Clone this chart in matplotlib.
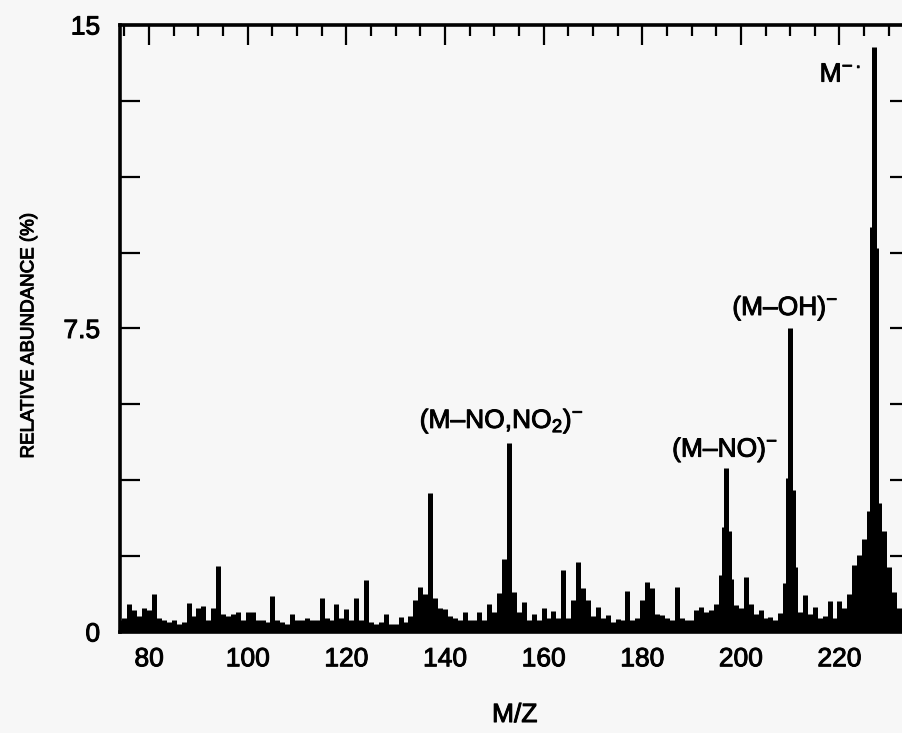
import numpy as np
import matplotlib
matplotlib.use("Agg")
import matplotlib.pyplot as plt
import matplotlib.patheffects as pe
from matplotlib.ticker import MultipleLocator, FixedLocator, FuncFormatter

plt.rcParams['font.family'] = ['Liberation Sans', 'DejaVu Sans']
plt.rcParams['mathtext.fontset'] = 'custom'
plt.rcParams['mathtext.rm'] = 'Liberation Sans'
plt.rcParams['mathtext.it'] = 'Liberation Sans:italic'
plt.rcParams['mathtext.bf'] = 'Liberation Sans:bold'

# spectrum, one value per integer m/z (74 ... 234)
mz = np.arange(74, 235)
abundance = [
    0.30, 0.35, 0.70, 0.55, 0.40, 0.60, 0.55, 0.95, 0.35, 0.30,   # 74-83
    0.25, 0.30, 0.20, 0.25, 0.72, 0.40, 0.60, 0.65, 0.30, 0.60,   # 84-93
    1.63, 0.45, 0.40, 0.45, 0.50, 0.30, 0.50, 0.50, 0.30, 0.30,   # 94-103
    0.25, 0.88, 0.30, 0.25, 0.20, 0.45, 0.30, 0.30, 0.35, 0.30,   # 104-113
    0.30, 0.84, 0.35, 0.30, 0.69, 0.35, 0.57, 0.30, 0.84, 0.30,   # 114-123
    1.28, 0.25, 0.20, 0.25, 0.45, 0.20, 0.20, 0.38, 0.25, 0.40,   # 124-133
    0.80, 1.12, 0.95, 3.43, 0.85, 0.60, 0.57, 0.40, 0.35, 0.30,   # 134-143
    0.50, 0.30, 0.30, 0.50, 0.30, 0.69, 0.50, 0.96, 1.80, 4.68,   # 144-153
    1.00, 0.50, 0.75, 0.30, 0.45, 0.30, 0.60, 0.35, 0.52, 0.35,   # 154-163
    1.52, 0.35, 0.80, 1.74, 1.08, 0.80, 0.40, 0.62, 0.35, 0.42,   # 164-173
    0.25, 0.33, 0.30, 1.02, 0.30, 0.35, 0.80, 1.24, 1.08, 0.45,   # 174-183
    0.42, 0.35, 0.30, 1.10, 0.35, 0.30, 0.30, 0.55, 0.62, 0.50,   # 184-193
    0.55, 0.70, 1.40, 4.05, 1.30, 0.67, 0.60, 1.37, 0.70, 0.45,   # 194-203
    0.55, 0.35, 0.38, 0.30, 0.48, 1.20, 7.52, 1.60, 0.50, 0.91,   # 204-213
    0.45, 0.62, 0.35, 0.40, 0.76, 0.35, 0.76, 0.60, 0.93, 1.66,   # 214-223
    1.90, 2.30, 3.00, 14.45, 3.20, 2.50, 1.60, 1.00, 0.60, 0.50, 0.30,  # 224-234
]

# flanks of the big peaks (half-mass points)
flank_mz = [196.5, 197.5, 209.5, 210.5, 226.5, 227.5]
flank_ab = [2.6, 2.5, 3.8, 3.5, 10.0, 9.5]

labels = ["M$^{-\\bullet}$", "(M–OH)$^{-}$", "(M–NO)$^{-}$", "(M–NO,NO$_2$)$^{-}$"]
label_x = [224.4, 209.0, 196.8, 151.5]
label_y = [13.6, 7.83, 4.33, 5.04]
label_ha = ['right', 'center', 'center', 'center']

ink = [pe.withStroke(linewidth=0.7, foreground='black')]

fig = plt.figure(figsize=(9.02, 7.33), dpi=100)
fig.patch.set_facecolor('#f7f7f7')
ax = fig.add_axes([119.5 / 902, 101 / 733, 790.5 / 902, 607 / 733])
ax.set_facecolor('#f7f7f7')

all_mz = np.concatenate([mz, flank_mz])
all_ab = np.concatenate([abundance, flank_ab])
sticks = ax.vlines(all_mz, 0, all_ab, colors='black', linewidth=3.6)
sticks.set_capstyle('butt')

for txt, x, y, ha in zip(labels, label_x, label_y, label_ha):
    ax.text(x, y, txt, ha=ha, va='baseline', fontsize=19, color='black',
            path_effects=ink)

ax.set_xlim(74, 234.3)
ax.set_ylim(0, 15)

ax.xaxis.set_major_locator(MultipleLocator(20))
ax.xaxis.set_minor_locator(MultipleLocator(5))
ax.yaxis.set_major_locator(FixedLocator([0, 7.5, 15]))
ax.yaxis.set_minor_locator(MultipleLocator(1.875))
ax.yaxis.set_major_formatter(FuncFormatter(lambda v, p: f"{v:g}"))

ax.tick_params(axis='x', which='both', bottom=False, top=True, direction='in',
               labelbottom=True, labeltop=False, width=1.6, labelsize=19, pad=11)
ax.tick_params(axis='x', which='major', length=14.5)
ax.tick_params(axis='x', which='minor', length=8)
ax.tick_params(axis='y', which='both', left=True, right=True, direction='in',
               length=14.5, width=1.6, labelsize=19, pad=14)
for lab in ax.get_xticklabels() + ax.get_yticklabels():
    lab.set_path_effects(ink)

for s in ax.spines.values():
    s.set_linewidth(2.6)

ax.set_xlabel('M/Z', fontsize=19, path_effects=ink)
ax.xaxis.set_label_coords(0.5, -0.117)
ax.set_ylabel('RELATIVE ABUNDANCE (%)', fontsize=13.5, path_effects=ink)
ax.yaxis.set_label_coords(-0.104, 0.488)

fig.savefig('out.png', dpi=100, facecolor=fig.get_facecolor())
